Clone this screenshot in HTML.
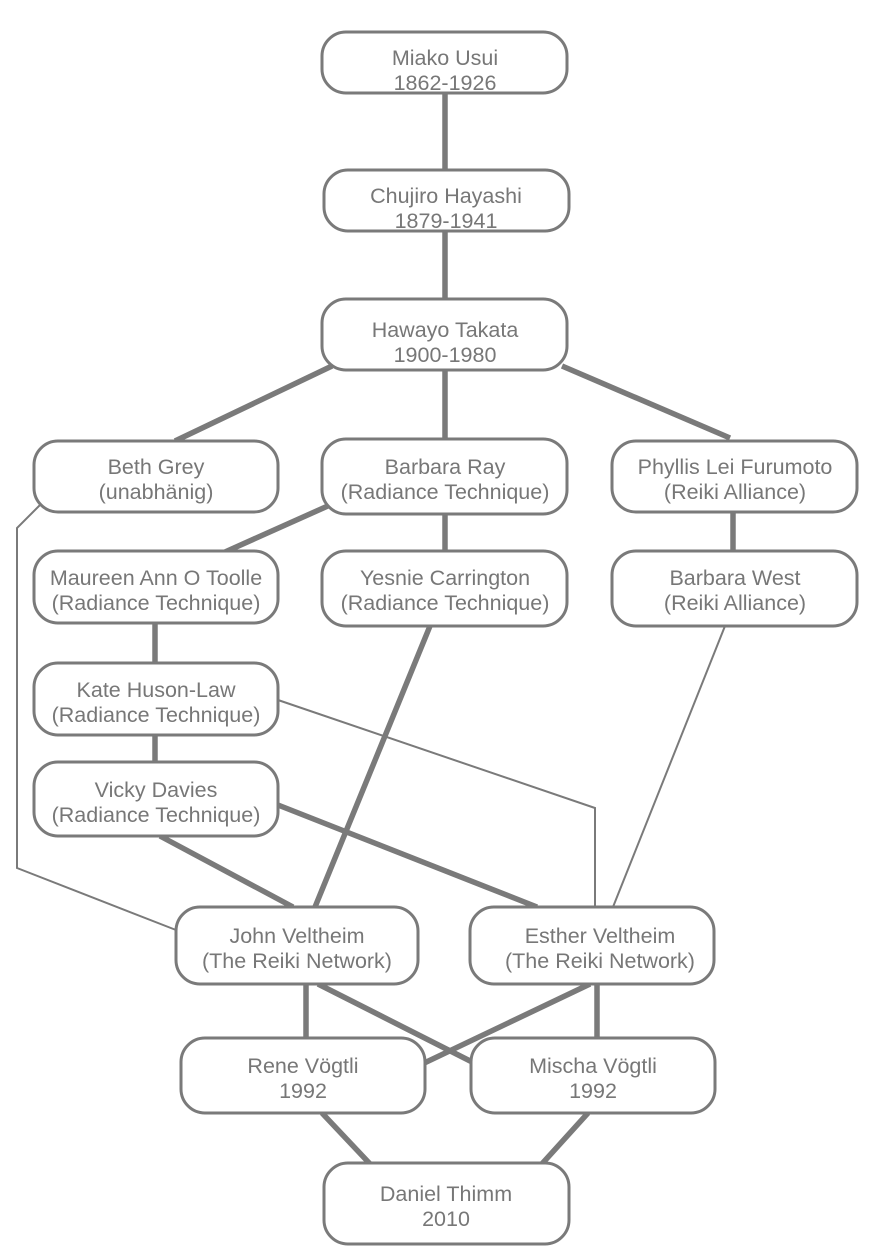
<!DOCTYPE html>
<html><head><meta charset="utf-8"><style>html,body{margin:0;padding:0;background:#fff}
text{font-family:"Liberation Sans",Arial,sans-serif}</style></head>
<body>
<svg width="890" height="1260" xmlns="http://www.w3.org/2000/svg" style="display:block">
<g stroke="#7a7a7a" fill="none" stroke-linecap="butt">
<g stroke-width="5.5">
<line x1="445" y1="93" x2="445" y2="170"/>
<line x1="445" y1="231" x2="445" y2="299"/>
<line x1="332" y1="366" x2="175" y2="441"/>
<line x1="445" y1="370" x2="445" y2="439"/>
<line x1="562" y1="366" x2="730" y2="438"/>
<line x1="330" y1="505" x2="225" y2="552"/>
<line x1="445" y1="514" x2="445" y2="551"/>
<line x1="733" y1="512" x2="733" y2="551"/>
<line x1="155" y1="623" x2="155" y2="663"/>
<line x1="155" y1="735" x2="155" y2="762"/>
<line x1="278" y1="805" x2="537" y2="907"/>
<line x1="160" y1="836" x2="293" y2="907"/>
<line x1="430" y1="626" x2="315" y2="907"/>
<line x1="306" y1="984" x2="306" y2="1038"/>
<line x1="318" y1="984" x2="482" y2="1067"/>
<line x1="590" y1="984" x2="418" y2="1066"/>
<line x1="597" y1="984" x2="597" y2="1038"/>
<line x1="322" y1="1113" x2="372" y2="1166"/>
<line x1="588" y1="1113" x2="540" y2="1166"/>
</g>
<g stroke-width="2">
<polyline points="42,503 17,528 17,868 176,930"/>
<polyline points="278,700 595,808 595,907"/>
<line x1="725" y1="626" x2="613" y2="907"/>
</g>
</g>
<g stroke="#7a7a7a" stroke-width="3" fill="#fff">
<rect x="322" y="32" width="245" height="61" rx="24"/>
<rect x="324" y="170" width="245" height="61" rx="24"/>
<rect x="322" y="299" width="245" height="71" rx="24"/>
<rect x="34" y="441" width="244" height="71" rx="24"/>
<rect x="322" y="439" width="245" height="75" rx="24"/>
<rect x="612" y="441" width="245" height="71" rx="24"/>
<rect x="34" y="551" width="244" height="72" rx="24"/>
<rect x="322" y="551" width="245" height="75" rx="24"/>
<rect x="612" y="551" width="245" height="75" rx="24"/>
<rect x="34" y="663" width="244" height="72" rx="24"/>
<rect x="34" y="762" width="244" height="74" rx="24"/>
<rect x="176" y="907" width="242" height="77" rx="24"/>
<rect x="470" y="907" width="244" height="77" rx="24"/>
<rect x="181" y="1038" width="244" height="75" rx="24"/>
<rect x="471" y="1038" width="244" height="75" rx="24"/>
<rect x="324" y="1163" width="245" height="81" rx="24"/>
</g>
<g fill="#777" font-size="21.5" text-anchor="middle">
<text x="445" y="65">Miako Usui</text><text x="445" y="90">1862-1926</text>
<text x="446" y="203">Chujiro Hayashi</text><text x="446" y="228">1879-1941</text>
<text x="445" y="337">Hawayo Takata</text><text x="445" y="362">1900-1980</text>
<text x="156" y="474">Beth Grey</text><text x="156" y="499">(unabhänig)</text>
<text x="445" y="474">Barbara Ray</text><text x="445" y="499">(Radiance Technique)</text>
<text x="735" y="474">Phyllis Lei Furumoto</text><text x="735" y="499">(Reiki Alliance)</text>
<text x="156" y="585">Maureen Ann O Toolle</text><text x="156" y="610">(Radiance Technique)</text>
<text x="445" y="585">Yesnie Carrington</text><text x="445" y="610">(Radiance Technique)</text>
<text x="735" y="585">Barbara West</text><text x="735" y="610">(Reiki Alliance)</text>
<text x="156" y="697">Kate Huson-Law</text><text x="156" y="722">(Radiance Technique)</text>
<text x="156" y="797">Vicky Davies</text><text x="156" y="822">(Radiance Technique)</text>
<text x="297" y="943">John Veltheim</text><text x="297" y="968">(The Reiki Network)</text>
<text x="600" y="943">Esther Veltheim</text><text x="600" y="968">(The Reiki Network)</text>
<text x="303" y="1073">Rene Vögtli</text><text x="303" y="1098">1992</text>
<text x="593" y="1073">Mischa Vögtli</text><text x="593" y="1098">1992</text>
<text x="446" y="1201">Daniel Thimm</text><text x="446" y="1226">2010</text>
</g>
</svg>
</body></html>
